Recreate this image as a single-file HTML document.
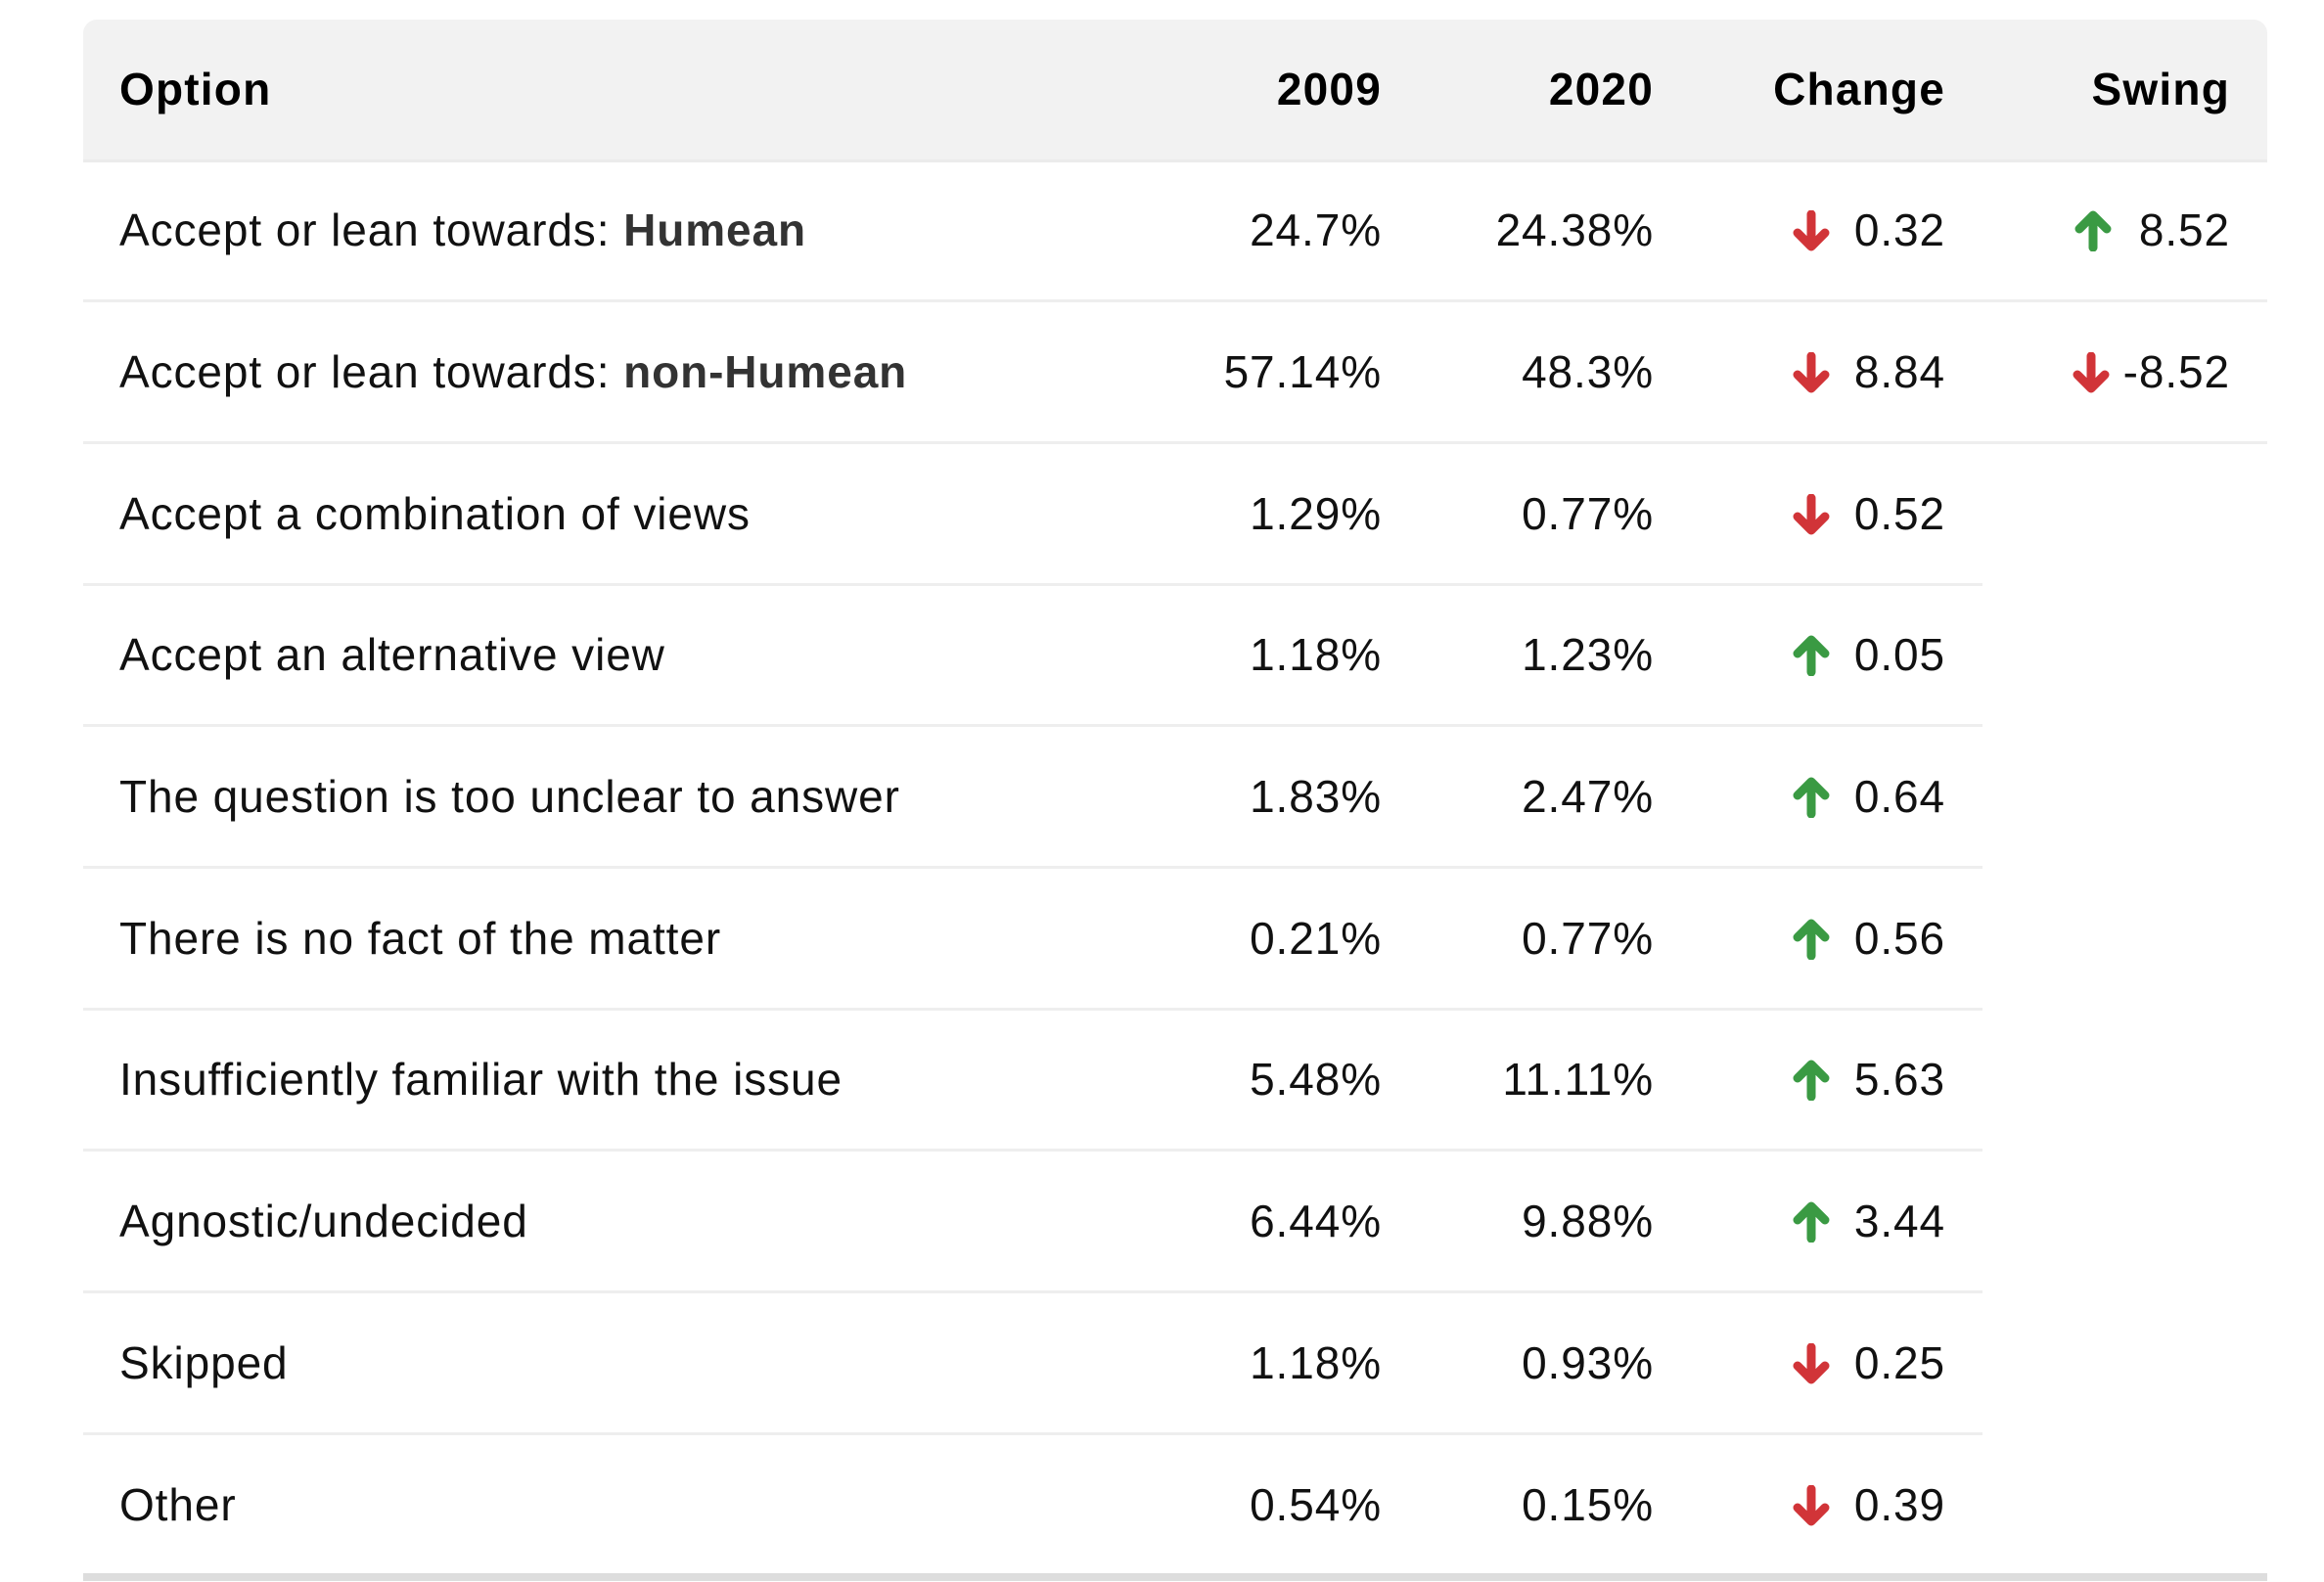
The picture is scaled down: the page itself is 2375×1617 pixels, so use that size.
<!DOCTYPE html>
<html><head><meta charset="utf-8"><style>
body{margin:0;width:2375px;height:1617px;background:#fff;font-family:"Liberation Sans",sans-serif;color:#111;position:relative;overflow:hidden}
.hdr{position:absolute;left:85px;top:20px;width:2232px;height:143px;background:#f2f2f2;border-radius:14px 14px 0 0;border-bottom:3px solid #ebebeb}
.t{position:absolute;font-size:46px;line-height:50px;white-space:nowrap;letter-spacing:0.9px}
.h{font-weight:bold;color:#000;letter-spacing:1.2px}
.r{text-align:right}
.line{position:absolute;left:85px;height:3px;background:#eeeeee}
b{color:#333}
svg{position:absolute}
</style></head><body>
<div class="hdr"></div>
<div class="t h" style="left:122px;top:66px">Option</div>
<div class="t h r" style="right:963px;top:66px">2009</div>
<div class="t h r" style="right:685px;top:66px">2020</div>
<div class="t h r" style="right:387px;top:66px">Change</div>
<div class="t h r" style="right:96px;top:66px">Swing</div>

<div class="line" style="top:306px;width:2232px"></div>
<div class="line" style="top:451px;width:2232px"></div>
<div class="line" style="top:596px;width:1941px"></div>
<div class="line" style="top:740px;width:1941px"></div>
<div class="line" style="top:885px;width:1941px"></div>
<div class="line" style="top:1030px;width:1941px"></div>
<div class="line" style="top:1174px;width:1941px"></div>
<div class="line" style="top:1319px;width:1941px"></div>
<div class="line" style="top:1464px;width:1941px"></div>
<div style="position:absolute;left:85px;top:1608px;width:2232px;height:8px;background:#dddddd"></div>

<svg width="0" height="0"><defs>
<g id="dn"><path d="M20 4 V36 M6 23 L20 37 L34 23" stroke="#d13438" stroke-width="9" stroke-linecap="round" stroke-linejoin="round" fill="none"/></g>
<g id="up"><path d="M20 38 V6 M6 19 L20 5 L34 19" stroke="#3a9a43" stroke-width="9" stroke-linecap="round" stroke-linejoin="round" fill="none"/></g>
</defs></svg>

<div class="t" style="left:122px;top:210px">Accept or lean towards: <b>Humean</b></div>
<div class="t r" style="right:963px;top:210px">24.7%</div>
<div class="t r" style="right:685px;top:210px">24.38%</div>
<svg style="left:1831px;top:215px" width="40" height="42"><use href="#dn"/></svg>
<div class="t r" style="right:387px;top:210px">0.32</div>
<svg style="left:2119px;top:215px" width="40" height="42"><use href="#up"/></svg>
<div class="t r" style="right:96px;top:210px">8.52</div>

<div class="t" style="left:122px;top:355px">Accept or lean towards: <b>non-Humean</b></div>
<div class="t r" style="right:963px;top:355px">57.14%</div>
<div class="t r" style="right:685px;top:355px">48.3%</div>
<svg style="left:1831px;top:360px" width="40" height="42"><use href="#dn"/></svg>
<div class="t r" style="right:387px;top:355px">8.84</div>
<svg style="left:2117px;top:360px" width="40" height="42"><use href="#dn"/></svg>
<div class="t r" style="right:96px;top:355px">-8.52</div>

<div class="t" style="left:122px;top:500px">Accept a combination of views</div>
<div class="t r" style="right:963px;top:500px">1.29%</div>
<div class="t r" style="right:685px;top:500px">0.77%</div>
<svg style="left:1831px;top:505px" width="40" height="42"><use href="#dn"/></svg>
<div class="t r" style="right:387px;top:500px">0.52</div>

<div class="t" style="left:122px;top:644px">Accept an alternative view</div>
<div class="t r" style="right:963px;top:644px">1.18%</div>
<div class="t r" style="right:685px;top:644px">1.23%</div>
<svg style="left:1831px;top:649px" width="40" height="42"><use href="#up"/></svg>
<div class="t r" style="right:387px;top:644px">0.05</div>

<div class="t" style="left:122px;top:789px">The question is too unclear to answer</div>
<div class="t r" style="right:963px;top:789px">1.83%</div>
<div class="t r" style="right:685px;top:789px">2.47%</div>
<svg style="left:1831px;top:794px" width="40" height="42"><use href="#up"/></svg>
<div class="t r" style="right:387px;top:789px">0.64</div>

<div class="t" style="left:122px;top:934px">There is no fact of the matter</div>
<div class="t r" style="right:963px;top:934px">0.21%</div>
<div class="t r" style="right:685px;top:934px">0.77%</div>
<svg style="left:1831px;top:939px" width="40" height="42"><use href="#up"/></svg>
<div class="t r" style="right:387px;top:934px">0.56</div>

<div class="t" style="left:122px;top:1078px">Insufficiently familiar with the issue</div>
<div class="t r" style="right:963px;top:1078px">5.48%</div>
<div class="t r" style="right:685px;top:1078px">11.11%</div>
<svg style="left:1831px;top:1083px" width="40" height="42"><use href="#up"/></svg>
<div class="t r" style="right:387px;top:1078px">5.63</div>

<div class="t" style="left:122px;top:1223px">Agnostic/undecided</div>
<div class="t r" style="right:963px;top:1223px">6.44%</div>
<div class="t r" style="right:685px;top:1223px">9.88%</div>
<svg style="left:1831px;top:1228px" width="40" height="42"><use href="#up"/></svg>
<div class="t r" style="right:387px;top:1223px">3.44</div>

<div class="t" style="left:122px;top:1368px">Skipped</div>
<div class="t r" style="right:963px;top:1368px">1.18%</div>
<div class="t r" style="right:685px;top:1368px">0.93%</div>
<svg style="left:1831px;top:1373px" width="40" height="42"><use href="#dn"/></svg>
<div class="t r" style="right:387px;top:1368px">0.25</div>

<div class="t" style="left:122px;top:1513px">Other</div>
<div class="t r" style="right:963px;top:1513px">0.54%</div>
<div class="t r" style="right:685px;top:1513px">0.15%</div>
<svg style="left:1831px;top:1518px" width="40" height="42"><use href="#dn"/></svg>
<div class="t r" style="right:387px;top:1513px">0.39</div>
</body></html>
